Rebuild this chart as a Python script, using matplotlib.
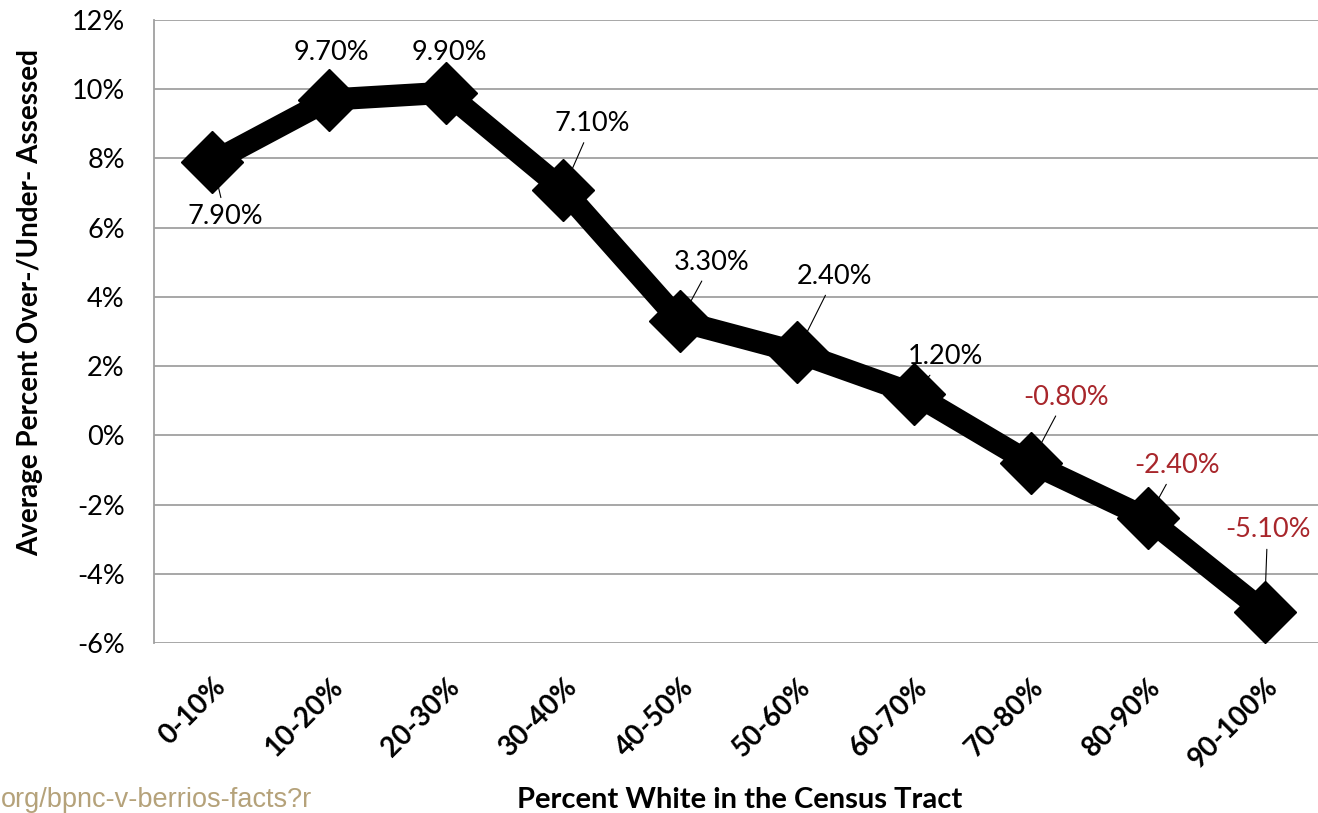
import numpy as np
import matplotlib.pyplot as plt

categories = ['0-10%', '10-20%', '20-30%', '30-40%', '40-50%',
              '50-60%', '60-70%', '70-80%', '80-90%', '90-100%']
values = [7.9, 9.7, 9.9, 7.1, 3.3, 2.4, 1.2, -0.8, -2.4, -5.1]
labels = ['7.90%', '9.70%', '9.90%', '7.10%', '3.30%',
          '2.40%', '1.20%', '-0.80%', '-2.40%', '-5.10%']
# label offsets from each point, in pixels
label_dx = [13, 2, 3, 29, 32, 38, 32, 35, 29, 3]
label_dy = [-55, 47, 40, 66, 59, 76, 37, 66, 53, 82]
yticks = [-6, -4, -2, 0, 2, 4, 6, 8, 10, 12]

plt.rcParams['font.family'] = ['Lato', 'DejaVu Sans']

fig = plt.figure(figsize=(13.18, 8.13), dpi=100)
ax = fig.add_axes([154 / 1318, 1 - 643 / 813, 1169 / 1318, 623 / 813])

x = np.arange(len(categories))
ax.plot(x, values, color='black', lw=16, marker='D', ms=32,
        solid_joinstyle='miter', zorder=3, clip_on=False)

for i, (v, lab) in enumerate(zip(values, labels)):
    color = '#a8262b' if v < 0 else 'black'
    ax.annotate(lab, xy=(i, v), xytext=(label_dx[i], label_dy[i]),
                textcoords='offset pixels', ha='center', va='center',
                fontsize=19.5, color=color, zorder=4,
                arrowprops=dict(arrowstyle='-', color='black', lw=0.8,
                                shrinkA=3, shrinkB=0))

ax.set_xlim(-0.5, len(categories) - 0.5)
ax.set_ylim(-6, 12)
ax.set_yticks(yticks)
ax.set_yticklabels([f'{t}%' for t in yticks], fontsize=19.5)
ax.set_xticks(x)
ax.set_xticklabels(categories, rotation=45, ha='right', rotation_mode='anchor',
                   fontsize=20, fontweight='bold')
ax.tick_params(axis='y', length=0, pad=21)
ax.tick_params(axis='x', length=0, pad=22)

ax.grid(axis='y', color='#a0a0a0', lw=1.3)
ax.set_axisbelow(True)
for side in ['top', 'right', 'bottom']:
    ax.spines[side].set_visible(False)
ax.spines['left'].set_color('#a0a0a0')
ax.spines['left'].set_linewidth(1.3)

fig.text(30 / 1318, 1 - 302 / 813, 'Average Percent Over-/Under- Assessed',
         rotation=90, ha='center', va='center', fontsize=20, fontweight='bold')
fig.text(740 / 1318, 1 - 800 / 813, 'Percent White in the Census Tract',
         ha='center', va='center', fontsize=21, fontweight='bold')
fig.text(1 / 1318, 1 - 800 / 813, 'org/bpnc-v-berrios-facts?r',
         ha='left', va='center', fontsize=19.5, color='#b5a27a',
         family='Liberation Sans')

fig.savefig('out.png', dpi=100)
